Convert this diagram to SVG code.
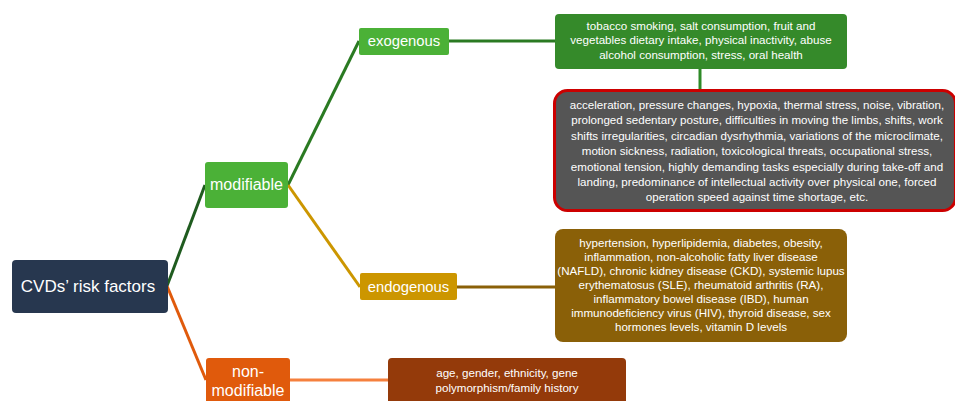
<svg xmlns="http://www.w3.org/2000/svg" width="955" height="401" viewBox="0 0 955 401">
<style>
text{font-family:"Liberation Sans",Arial,sans-serif;fill:#fff;text-anchor:middle}
.b{font-size:14.8px}
.m{font-size:16px}
.s{font-size:11.6px}
.c{fill:none;stroke-width:3}
</style>
<rect width="955" height="401" fill="#fff"/>
<g id="connectors">
<line class="c" x1="167" y1="286" x2="205" y2="185" stroke="#1F5B1F"/>
<line class="c" x1="167" y1="286" x2="206" y2="380" stroke="#E05A0C"/>
<line class="c" x1="288" y1="185" x2="359" y2="41" stroke="#2A7A22"/>
<line class="c" x1="288" y1="185" x2="360" y2="287" stroke="#CC9600"/>
<line class="c" x1="448" y1="41" x2="556" y2="41" stroke="#2A7A22"/>
<line class="c" x1="700" y1="69" x2="700" y2="91" stroke="#2E8A28"/>
<line class="c" x1="457" y1="287" x2="556" y2="287" stroke="#8A6008"/>
<line class="c" x1="290" y1="380" x2="388" y2="380" stroke="#F5803D"/>
</g>
<g id="root">
<rect x="12" y="260" width="156" height="53" rx="4" fill="#27374F"/>
<text x="88" y="292" style="font-size:17px">CVDs’ risk factors</text>
</g>
<g id="modifiable">
<rect x="205" y="162" width="83" height="46" rx="3" fill="#4BB137"/>
<text class="m" x="246.5" y="190">modifiable</text>
</g>
<g id="exogenous">
<rect x="359" y="28" width="90" height="27" rx="2" fill="#4BB137"/>
<text class="b" x="404" y="46">exogenous</text>
</g>
<g id="endogenous">
<rect x="360" y="273" width="97" height="27" rx="2" fill="#CC9600"/>
<text class="b" x="408.5" y="292">endogenous</text>
</g>
<g id="nonmodifiable">
<rect x="206" y="358" width="84" height="50" rx="3" fill="#E05A0C"/>
<text class="m" x="248" y="377">non-</text>
<text class="m" x="248" y="396">modifiable</text>
</g>
<g id="exo-leaf">
<rect x="555" y="14" width="292" height="55" rx="4" fill="#358A2A"/>
<text class="s" x="701" y="30">tobacco smoking, salt consumption,  fruit and</text>
<text class="s" x="701" y="44">vegetables dietary intake, physical inactivity, abuse</text>
<text class="s" x="701" y="59">alcohol consumption,  stress, oral health</text>
</g>
<g id="occupational">
<rect x="554.5" y="90.5" width="401" height="120" rx="13" fill="#555555" stroke="#CC0000" stroke-width="3"/>
<text class="s" x="757" y="109">acceleration, pressure changes, hypoxia, thermal stress, noise, vibration,</text>
<text class="s" x="757" y="124.4">prolonged sedentary posture, difficulties in moving the limbs, shifts, work</text>
<text class="s" x="757" y="139.8">shifts irregularities, circadian dysrhythmia, variations of the microclimate,</text>
<text class="s" x="757" y="155.2">motion  sickness, radiation, toxicological threats, occupational stress,</text>
<text class="s" x="757" y="170.6">emotional  tension, highly demanding  tasks especially during take-off and</text>
<text class="s" x="757" y="186">landing, predominance  of intellectual activity over physical one, forced</text>
<text class="s" x="757" y="201.4">operation  speed against time shortage, etc.</text>
</g>
<g id="endo-leaf">
<rect x="555" y="229" width="292" height="113" rx="8" fill="#8A6008"/>
<text class="s" x="701" y="247">hypertension, hyperlipidemia, diabetes, obesity,</text>
<text class="s" x="701" y="261">inflammation,  non-alcoholic fatty liver disease</text>
<text class="s" x="701" y="275">(NAFLD), chronic kidney disease (CKD), systemic lupus</text>
<text class="s" x="701" y="289">erythematosus (SLE), rheumatoid  arthritis (RA),</text>
<text class="s" x="701" y="303">inflammatory bowel disease (IBD), human</text>
<text class="s" x="701" y="317">immunodeficiency  virus (HIV), thyroid disease, sex</text>
<text class="s" x="701" y="331">hormones  levels, vitamin D levels</text>
</g>
<g id="nonmod-leaf">
<rect x="388" y="358" width="238" height="50" rx="4" fill="#943A0A"/>
<text class="s" x="507" y="377">age, gender, ethnicity, gene</text>
<text class="s" x="507" y="392">polymorphism/family  history</text>
</g>
</svg>
